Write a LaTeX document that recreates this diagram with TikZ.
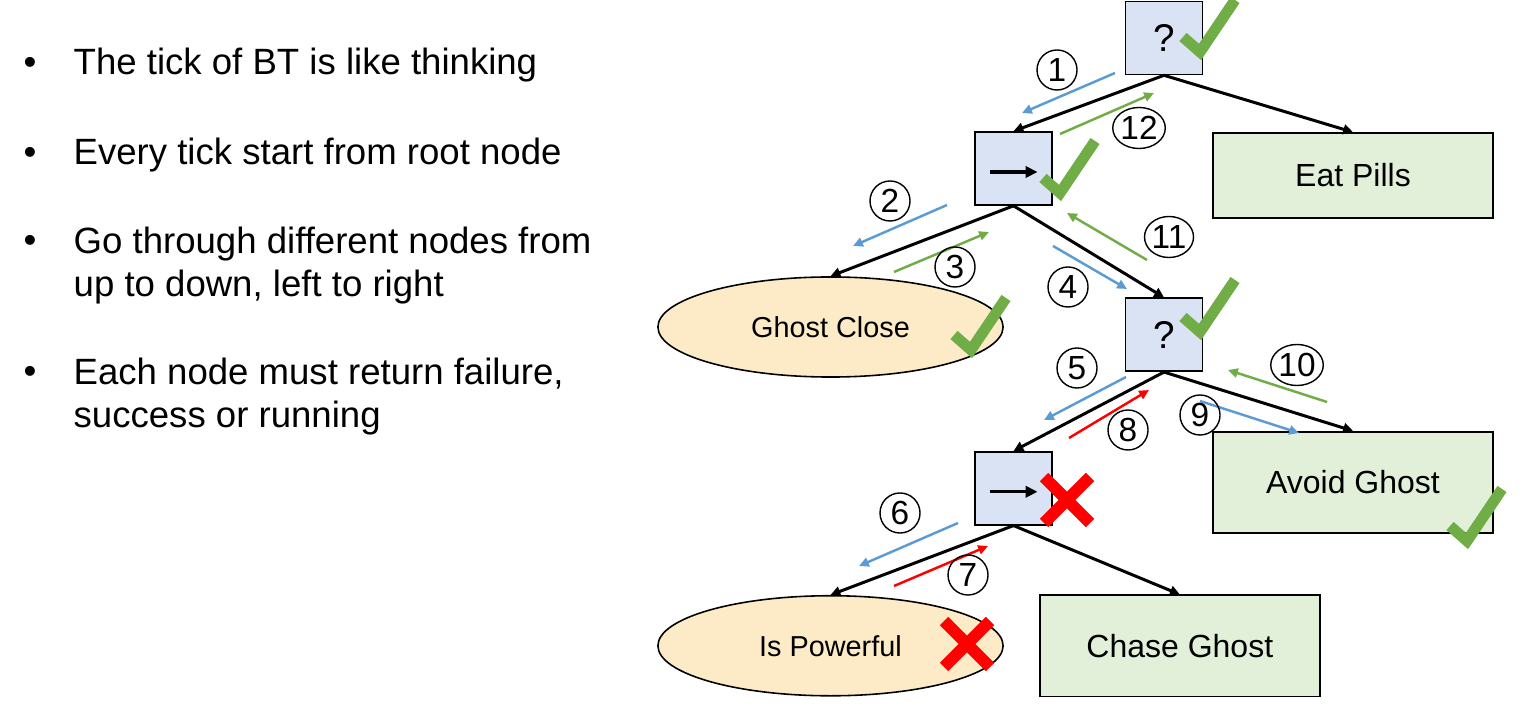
\documentclass[tikz,border=0pt]{standalone}
\usepackage{fontspec}
\setmainfont{Liberation Sans}
\usepackage{xcolor}
\usepackage{tikz}
\usetikzlibrary{shapes,arrows.meta,positioning}

\definecolor{ctrlfill}{HTML}{DAE3F3}
\definecolor{actfill}{HTML}{E2F0D9}
\definecolor{condfill}{HTML}{FCEBC6}
\definecolor{tickblue}{HTML}{5B9BD5}
\definecolor{tickgreen}{HTML}{70AD47}
\definecolor{tickred}{HTML}{FF0000}

% status marks, drawn at the corner of a node
\newcommand{\okmark}[1]{\draw[okline] (#1) ++(-17,-15) -- (#1) -- ++(35,-52);}
\newcommand{\failmark}[1]{\draw[failline] (#1) ++(-23,-23) -- ++(46,46) ++(0,-46) -- ++(-46,46);}

\begin{document}
\begin{tikzpicture}[
    x=0.01cm, y=-0.01cm,
    ctrl/.style={rectangle, draw, fill=ctrlfill, line width=0.45pt, minimum width=0.77cm, minimum height=0.73cm, inner sep=0pt, font=\fontsize{11}{11}\selectfont},
    act/.style={rectangle, draw, fill=actfill, line width=0.45pt, minimum width=2.8cm, minimum height=1.01cm, font=\fontsize{9.1}{9.1}\selectfont},
    cond/.style={ellipse, draw, fill=condfill, line width=0.45pt, minimum width=3.45cm, minimum height=1.0cm, inner sep=0pt, font=\fontsize{8.2}{8.2}\selectfont},
    edge/.style={-{Triangle[length=2.8pt,width=2.8pt]}, line width=0.85pt},
    flow/.style={-{Triangle[length=2.8pt,width=2.6pt]}, line width=0.7pt},
    num/.style={circle, draw, line width=0.4pt, minimum size=0.4cm, inner sep=0pt, font=\fontsize{9.5}{9.5}\selectfont},
    numwide/.style={num, ellipse, minimum width=0.48cm, minimum height=0.41cm},
    item/.style={anchor=base west, align=left, inner sep=0pt, font=\fontsize{10.4}{12.4}\selectfont},
    dot/.style={anchor=base, inner sep=0pt, font=\fontsize{10.4}{12.4}\selectfont},
    okline/.style={tickgreen, line width=3.1pt},
    failline/.style={tickred, line width=3.4pt},
    seqarrow/.style={-{Triangle[length=3.4pt,width=3.2pt]}, line width=0.95pt}
]
    \useasboundingbox (0,0) rectangle (1534,716);

    % bullet list (base = last line)
    \node[dot] (d1) at (30,75) {•};
    \node[item] (t1) at (73,75) {The tick of BT is like thinking};
    \node[dot] (d2) at (30,165) {•};
    \node[item] (t2) at (73,165) {Every tick start from root node};
    \node[dot] (d3) at (30,253) {•};
    \node[item] (t3) at (73,297) {Go through different nodes from\\up to down, left to right};
    \node[dot] (d4) at (30,384) {•};
    \node[item] (t4) at (73,428) {Each node must return failure,\\success or running};

    % tree
    \node[ctrl] (root) at (1164,38) {?};
    \node[ctrl] (seq1) at (1013.5,168.5) {};
    \node[act] (eat) at (1353,175.5) [minimum height=0.85cm] {Eat Pills};
    \node[cond] (ghost) at (830.5,327) {Ghost Close};
    \node[ctrl, below=2.22cm of root] (sel2) {?};
    \node[ctrl, below=2.45cm of seq1] (seq2) {};
    \node[act, below=2.12cm of eat] (avoid) {Avoid Ghost};
    \node[cond, below=2.17cm of ghost] (power) {Is Powerful};
    \node[act, right=0.35cm of power] (chase) {Chase Ghost};

    \draw[seqarrow] ([shift={(-24,3.5)}]seq1.center) -- ([shift={(24,3.5)}]seq1.center);
    \draw[seqarrow] ([shift={(-24,3.5)}]seq2.center) -- ([shift={(24,3.5)}]seq2.center);

    \draw[edge] (root.south) -- (seq1.north);
    \draw[edge] (root.south) -- (eat.north);
    \draw[edge] (seq1.south) -- (ghost.north);
    \draw[edge] (seq1.south) -- (sel2.north);
    \draw[edge] (sel2.south) -- (seq2.north);
    \draw[edge] (sel2.south) -- (avoid.north);
    \draw[edge] (seq2.south) -- (power.north);
    \draw[edge] (seq2.south) -- (chase.north);

    % tick order
    \coordinate (s1) at (1115,73);  \coordinate (e1) at (1022,113);
    \coordinate (s2) at (947,205);  \coordinate (e2) at (853,246);
    \coordinate (s3) at (894,272);  \coordinate (e3) at (989,232);
    \coordinate (s4) at (1053,246); \coordinate (e4) at (1127,289);
    \coordinate (s5) at (1126,377); \coordinate (e5) at (1044,420);
    \coordinate (s6) at (958,523);  \coordinate (e6) at (859,566);
    \coordinate (s7) at (894,586);  \coordinate (e7) at (988,546);
    \coordinate (s8) at (1069,438); \coordinate (e8) at (1149,390);
    \coordinate (s9) at (1200,401); \coordinate (e9) at (1299,433);
    \coordinate (s10) at (1327,402); \coordinate (e10) at (1228,370);
    \coordinate (s11) at (1147,260); \coordinate (e11) at (1067,213);
    \coordinate (s12) at (1060,134); \coordinate (e12) at (1154,93);

    \draw[flow, tickblue] (s1) -- (e1);
    \draw[flow, tickblue] (s2) -- (e2);
    \draw[flow, tickgreen] (s3) -- (e3);
    \draw[flow, tickblue] (s4) -- (e4);
    \draw[flow, tickblue] (s5) -- (e5);
    \draw[flow, tickblue] (s6) -- (e6);
    \draw[flow, tickred] (s7) -- (e7);
    \draw[flow, tickred] (s8) -- (e8);
    \draw[flow, tickblue] (s9) -- (e9);
    \draw[flow, tickgreen] (s10) -- (e10);
    \draw[flow, tickgreen] (s11) -- (e11);
    \draw[flow, tickgreen] (s12) -- (e12);

    \node[num] (n1) at (1057,70) {1};
    \node[num] (n2) at (890,201) {2};
    \node[num] (n3) at (955,267) {3};
    \node[num] (n4) at (1068,287) {4};
    \node[num] (n5) at (1077,368) {5};
    \node[num] (n6) at (900,513) {6};
    \node[num] (n7) at (968,575) {7};
    \node[num] (n8) at (1128,430) {8};
    \node[num] (n9) at (1200,415) {9};
    \node[numwide] (n10) at (1297,365) {10};
    \node[numwide] (n11) at (1169,237) {11};
    \node[numwide] (n12) at (1139,128) {12};

    % results
    \coordinate (okroot) at (1200,52);
    \coordinate (okseq) at (1060,193);
    \coordinate (okghost) at (971,350);
    \coordinate (oksel) at (1200,332);
    \coordinate (okavoid) at (1467,541);
    \coordinate (failseq) at (1067,500);
    \coordinate (failpower) at (967,644);
    \okmark{okroot}
    \okmark{okseq}
    \okmark{okghost}
    \okmark{oksel}
    \okmark{okavoid}
    \failmark{failseq}
    \failmark{failpower}
\end{tikzpicture}
\end{document}
